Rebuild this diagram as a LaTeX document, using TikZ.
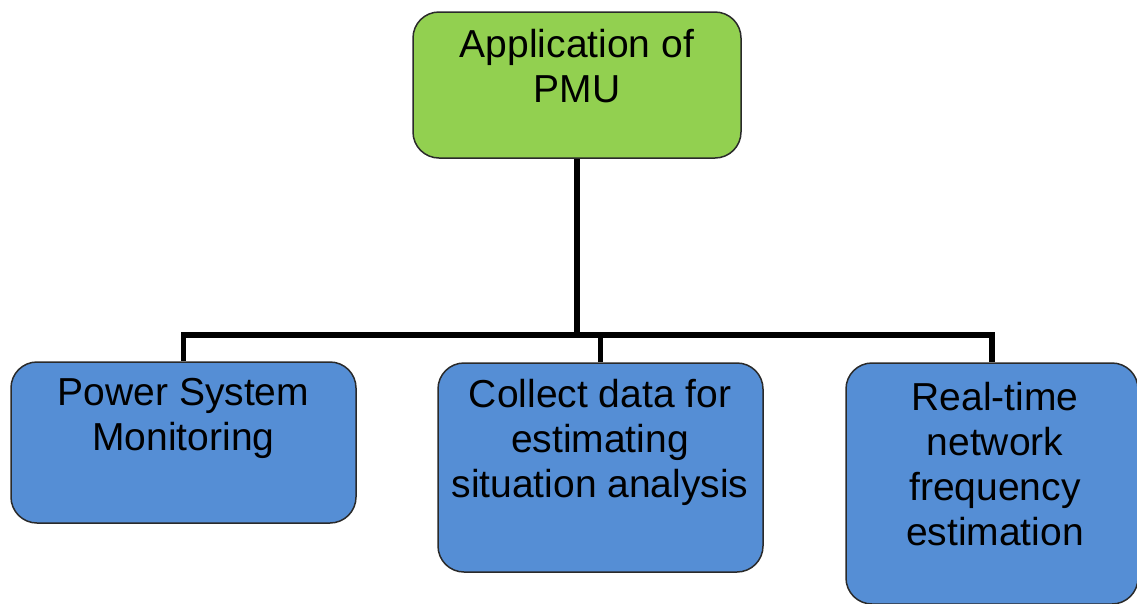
\documentclass[tikz,border=0pt]{standalone}
\usepackage{fontspec}
\setmainfont{Liberation Sans}
\definecolor{boxgreen}{HTML}{92D050}
\definecolor{boxblue}{HTML}{558ED5}
\definecolor{boxline}{HTML}{2A2A2A}
\tikzset{
  box/.style={draw=boxline, line width=1.5pt, rounded corners=26pt, inner sep=0pt},
  greenbox/.style={box, fill=boxgreen},
  bluebox/.style={box, fill=boxblue},
  label/.style={align=center, anchor=base, inner sep=0pt, font=\fontsize{39}{45}\selectfont, text=black},
  conn/.style={line width=5.5pt, draw=black}
}
\begin{document}
\begin{tikzpicture}[x=1pt, y=-1pt]
\useasboundingbox (0,0) rectangle (1137,603);
\clip (0,0) rectangle (1137,603);
\fill[white] (0,0) rectangle (1137,603);
% boxes
\node[greenbox, minimum width=328pt, minimum height=146pt] (top) at (577,85) {};
\node[bluebox, minimum width=345pt, minimum height=161pt] (left) at (183.5,442.5) {};
\node[bluebox, minimum width=325pt, minimum height=209pt] (mid) at (600.5,467.5) {};
\node[bluebox, minimum width=292pt, minimum height=241pt] (right) at (992,483.5) {};
% connectors
\coordinate (j) at (577,335);
\draw[conn] (top.south) -- (j);
\draw[conn] (left.north) |- (right.north |- j) -- (right.north);
\draw[conn] (mid.north) -- (mid.north |- j);
% texts (base anchor = baseline of last line)
\node[label] (ttop) at (577,102) {Application of\\PMU};
\node[label] (tleft) at (183.5,450) {Power System\\Monitoring};
\node[label] (tmid) at (600,497) {Collect data for\\estimating\\situation analysis};
\node[label] (tright) at (995,545) {Real-time\\network\\frequency\\estimation};
\end{tikzpicture}
\end{document}
